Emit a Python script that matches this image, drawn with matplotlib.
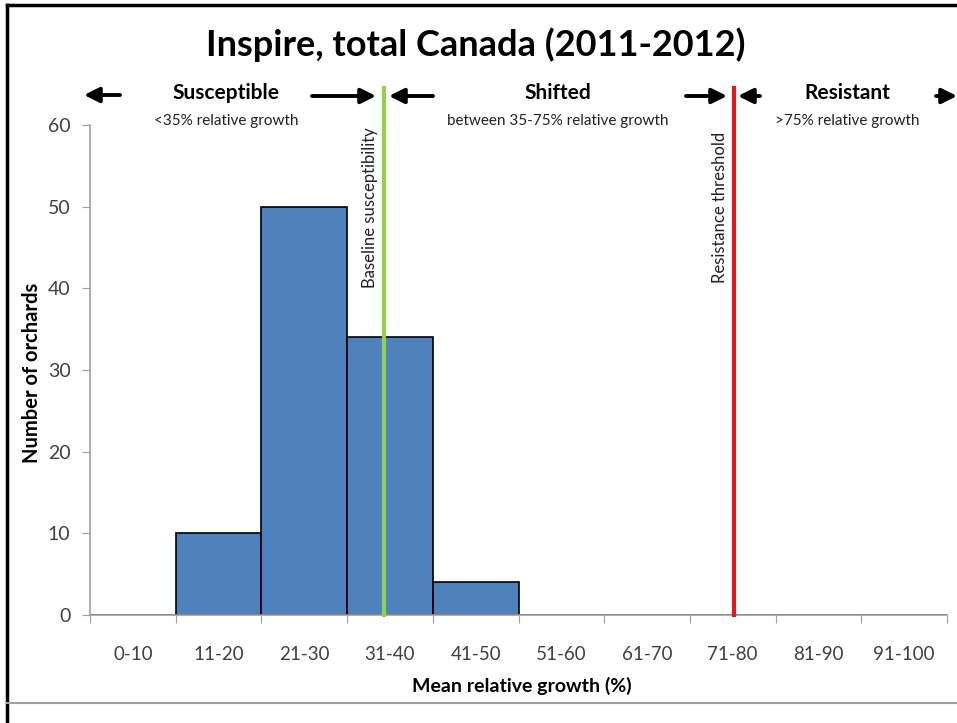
import matplotlib
matplotlib.use("Agg")
import matplotlib.pyplot as plt
from matplotlib.lines import Line2D
from matplotlib.patches import FancyArrowPatch

categories = ["0-10", "11-20", "21-30", "31-40", "41-50", "51-60", "61-70", "71-80", "81-90", "91-100"]
orchards = [0, 10, 50, 34, 4, 0, 0, 0, 0, 0]
baseline_pos = 3.43      # in category units along x
threshold_pos = 7.52
yticks = [0, 10, 20, 30, 40, 50, 60]

W, H = 957, 723
plt.rcParams['font.family'] = ['Lato', 'DejaVu Sans']
fig = plt.figure(figsize=(W / 100, H / 100), dpi=100)

def fx(px):
    return px / W

def fy(py):
    return 1 - py / H

ax = fig.add_axes([fx(90), fy(615), fx(947) - fx(90), fy(125) - fy(615)])
x = list(range(len(categories)))
ax.bar([i + 0.5 for i in x], orchards, width=1.0, color="#4F81BD", edgecolor="black", linewidth=1.2, zorder=2)
ax.set_xlim(0, len(categories))
ax.set_ylim(0, 60)
ax.set_yticks(yticks)
ax.set_yticklabels([str(v) for v in yticks], fontsize=14, color="#404040")
ax.set_xticks(list(range(len(categories) + 1)))
ax.set_xticklabels([])
ax.set_xticks([i + 0.5 for i in x], minor=True)
ax.set_xticklabels(categories, minor=True, fontsize=13.5, color="#404040")
ax.tick_params(axis='x', which='major', direction='out', length=6, color="#A0A0A0")
ax.tick_params(axis='x', which='minor', length=0, pad=22)
ax.tick_params(axis='y', direction='out', length=6, color="#A0A0A0", pad=8)
for s in ["top", "right"]:
    ax.spines[s].set_visible(False)
for s in ["left", "bottom"]:
    ax.spines[s].set_color("#A0A0A0")
    ax.spines[s].set_linewidth(1.2)

# vertical reference lines extending above axes
line_top = 88
ytop = 60 * (615 - line_top) / (615 - 125)
ax.plot([baseline_pos, baseline_pos], [0, ytop], color="#92D050", lw=3, clip_on=False, zorder=3)
ax.plot([threshold_pos, threshold_pos], [0, ytop], color="#E0191E", lw=3, clip_on=False, zorder=3)

fig.text(fx(370), fy(208), "Baseline susceptibility", rotation=90, ha="center", va="center", fontsize=12, color="#202020")
fig.text(fx(720), fy(207), "Resistance threshold", rotation=90, ha="center", va="center", fontsize=12, color="#202020")

# title
fig.text(fx(476), fy(45), "Inspire, total Canada (2011-2012)", ha="center", va="center", fontsize=26, fontweight="bold")

# headers
fig.text(fx(226), fy(93), "Susceptible", ha="center", va="center", fontsize=15, fontweight="bold")
fig.text(fx(226), fy(121), "<35% relative growth", ha="center", va="center", fontsize=11, color="#202020")
fig.text(fx(558), fy(93), "Shifted", ha="center", va="center", fontsize=15, fontweight="bold")
fig.text(fx(558), fy(121), "between 35-75% relative growth", ha="center", va="center", fontsize=11, color="#202020")
fig.text(fx(847), fy(93), "Resistant", ha="center", va="center", fontsize=15, fontweight="bold")
fig.text(fx(847), fy(121), ">75% relative growth", ha="center", va="center", fontsize=11, color="#202020")

def arrow(x0, x1, y):
    fig.add_artist(FancyArrowPatch(
        (fx(x0), fy(y)), (fx(x1), fy(y)), transform=fig.transFigure,
        arrowstyle="-|>,head_length=9,head_width=4.5", color="black", lw=2.8,
        mutation_scale=1, shrinkA=0, shrinkB=0))

arrow(120, 84, 95)
arrow(312, 376, 96)
arrow(433, 389, 96)
arrow(686, 727, 96)
arrow(760, 738, 96)
arrow(936, 957, 96)

# axis labels
fig.text(fx(32), fy(373), "Number of orchards", rotation=90, ha="center", va="center", fontsize=14.5, fontweight="bold")
fig.text(fx(522), fy(686), "Mean relative growth (%)", ha="center", va="center", fontsize=14, fontweight="bold")

# frame
fig.add_artist(Line2D([fx(7), fx(7)], [fy(5), 0], color="black", lw=2.5, transform=fig.transFigure))
fig.add_artist(Line2D([fx(7), 1], [fy(5), fy(5)], color="black", lw=2.5, transform=fig.transFigure))
fig.add_artist(Line2D([fx(7), 1], [fy(703), fy(703)], color="#A0A0A0", lw=1.5, transform=fig.transFigure))

fig.savefig("out.png", dpi=100)
